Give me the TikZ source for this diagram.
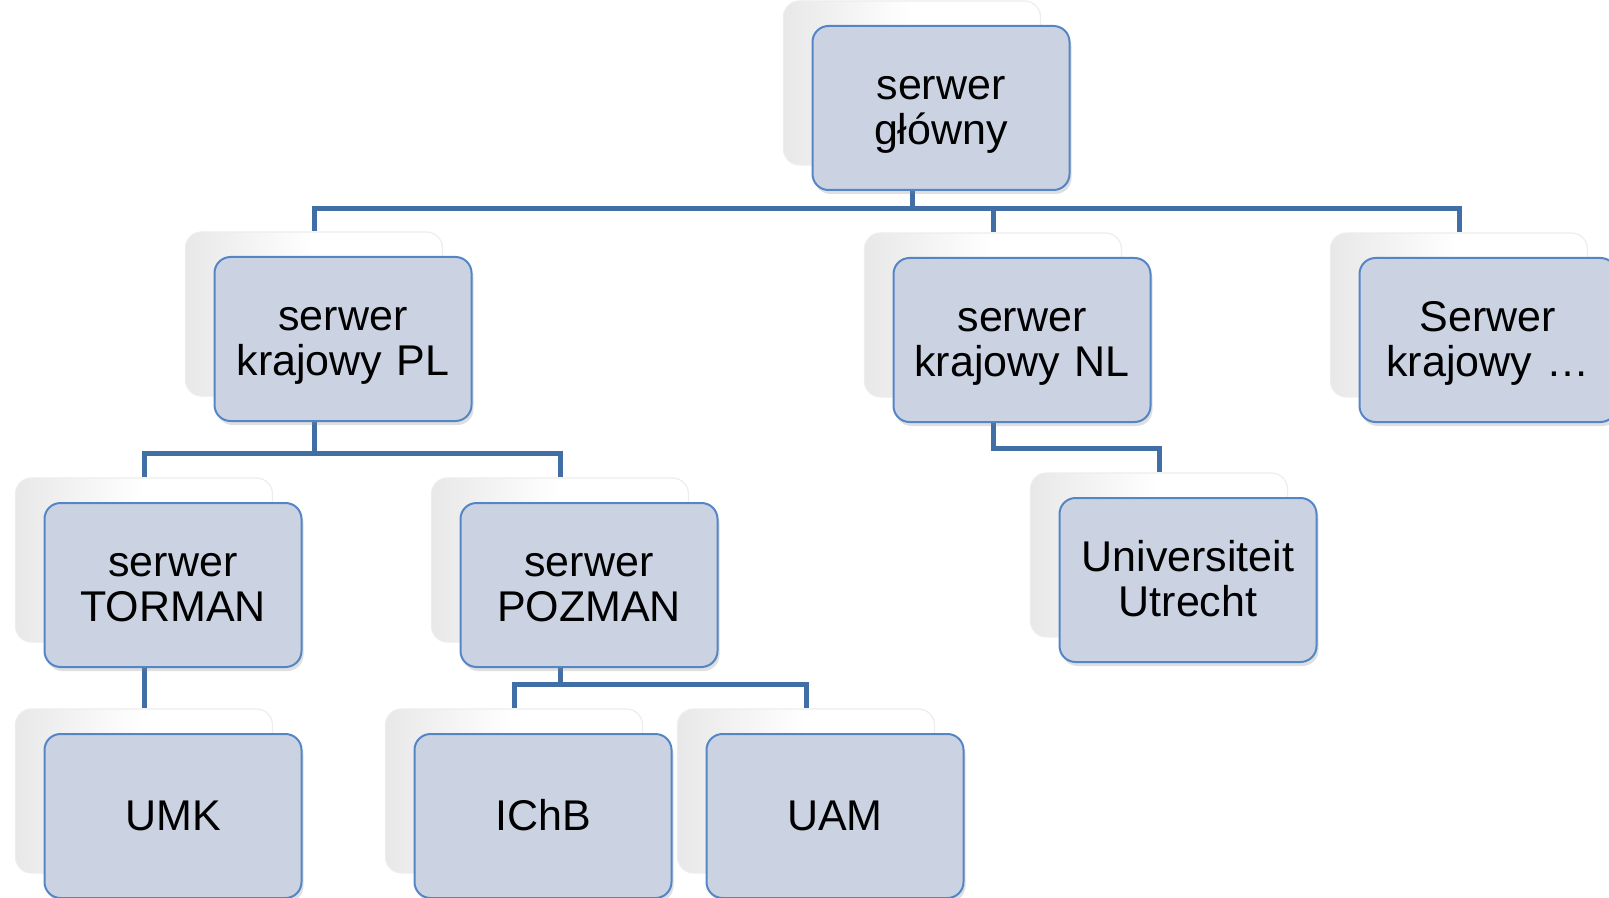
\documentclass[tikz,border=0pt]{standalone}
\usepackage{fontspec}
\setmainfont{Liberation Sans}
\usepackage{xcolor}
\usetikzlibrary{shadows}

\definecolor{boxfill}{RGB}{203,211,227}
\definecolor{boxline}{RGB}{84,134,198}
\definecolor{linkblue}{RGB}{66,110,166}

\begin{document}
\begin{tikzpicture}[
    x=0.5pt, y=-0.5pt,
    front/.style={rectangle, rounded corners=8pt, draw=boxline, line width=1pt,
        fill=boxfill, minimum width=128.5pt, minimum height=82pt, inner sep=0pt,
        text width=128.5pt, align=center, font=\fontsize{21.5}{22.5}\selectfont,
        execute at begin node={\rule{0pt}{19pt}},
        execute at end node={\rule[-5pt]{0pt}{5pt}},
        drop shadow={shadow xshift=1pt, shadow yshift=-2pt, opacity=0.25}},
    back/.style={rectangle, rounded corners=8pt, draw=black!7, line width=0.6pt,
        left color=black!9, right color=white, middle color=white,
        minimum width=128.5pt, minimum height=82pt, inner sep=0pt},
    link/.style={draw=linkblue, line width=2.5pt}
]

\useasboundingbox (0,0) rectangle (1609,898);

% shadow boxes behind
\node[back] (mainB) at (912,83) {};
\node[back] (plB) at (314,314) {};
\node[back] (nlB) at (993,315) {};
\node[back] (skB) at (1459,315) {};
\node[back] (tormanB) at (144,560) {};
\node[back] (pozmanB) at (560,560) {};
\node[back] (uuB) at (1159,555) {};
\node[back] (umkB) at (144,791) {};
\node[back] (ichbB) at (514,791) {};
\node[back] (uamB) at (806,791) {};

% connectors
\draw[link] (mainB.south) -- ++(0,43) -| (plB.north);
\draw[link] (mainB.south) -- ++(0,43) -| (nlB.north);
\draw[link] (mainB.south) -- ++(0,43) -| (skB.north);
\draw[link] (plB.south) -- ++(0,57) -| (tormanB.north);
\draw[link] (plB.south) -- ++(0,57) -| (pozmanB.north);
\draw[link] (nlB.south) -- ++(0,51) -| (uuB.north);
\draw[link] (tormanB.south) -- (umkB.north);
\draw[link] (pozmanB.south) -- ++(0,42) -| (ichbB.north);
\draw[link] (pozmanB.south) -- ++(0,42) -| (uamB.north);

% boxes
\node[front] (main) at (941,108) {serwer\\główny};
\node[front] (pl) at (343,339) {serwer\\krajowy PL};
\node[front] (nl) at (1022,340) {serwer\\krajowy NL};
\node[front] (sk) at (1488,340) {Serwer\\krajowy …};
\node[front] (torman) at (173,585) {serwer\\TORMAN};
\node[front] (pozman) at (589,585) {serwer\\POZMAN};
\node[front] (uu) at (1188,580) {Universiteit\\Utrecht};
\node[front] (umk) at (173,816) {UMK};
\node[front] (ichb) at (543,816) {IChB};
\node[front] (uam) at (835,816) {UAM};

\end{tikzpicture}
\end{document}
